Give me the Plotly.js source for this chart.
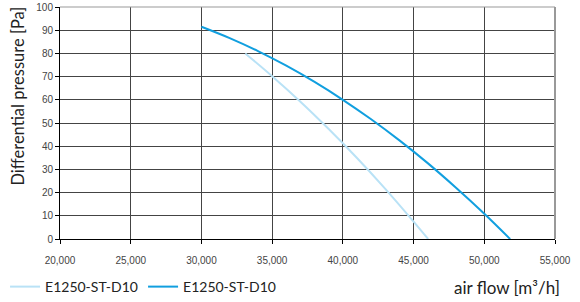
<!DOCTYPE html>
<html><head><meta charset="utf-8">
<script src="https://cdn.plot.ly/plotly-3.0.1.min.js"></script>
<style>html,body{margin:0;padding:0;background:#fff}#chart{width:580px;height:302px}</style>
</head><body><div id="chart"></div>
<script>
const seriesNames = ["E1250-ST-D10", "E1250-ST-D10"];
const lightFlow = [33100, 35000, 37000, 39000, 41000, 43000, 45000, 46030];
const lightPressure = [80, 70.2, 59.2, 47.4, 34.9, 21.6, 7.5, 0];
const darkFlow = [30000, 32000, 34000, 36000, 38000, 40000, 42000, 44000, 46000, 48000, 50000, 51830];
const darkPressure = [91.5, 86.6, 81.0, 74.7, 67.7, 60, 51.6, 42.5, 32.7, 22.1, 10.9, 0];
const xTicks = [20000, 25000, 30000, 35000, 40000, 45000, 50000, 55000];
const xTickLabels = ["20,000","25,000","30,000","35,000","40,000","45,000","50,000","55,000"];
const yTicks = [0,10,20,30,40,50,60,70,80,90,100];

const titleFont = "Lato, 'Open Sans', sans-serif";
const data = [
  {x: lightFlow, y: lightPressure, type: "scatter", mode: "lines", name: seriesNames[0],
   line: {color: "#b9e2f6", width: 2, shape: "spline", smoothing: 1}},
  {x: darkFlow, y: darkPressure, type: "scatter", mode: "lines", name: seriesNames[1],
   line: {color: "#119fdf", width: 2, shape: "spline", smoothing: 1}}
];
const layout = {
  width: 580, height: 302,
  margin: {l: 60, r: 25, t: 7, b: 63, autoexpand: false},
  paper_bgcolor: "#fff", plot_bgcolor: "#fff",
  showlegend: true,
  legend: {orientation: "h", x: -0.111, y: -0.138, xanchor: "left", yanchor: "top",
    font: {family: titleFont, size: 14, color: "#222"}, itemwidth: 30, tracegroupgap: 0,
    entrywidth: 93},
  xaxis: {range: [20000, 55000], tickvals: xTicks, ticktext: xTickLabels,
    showgrid: true, gridcolor: "#444", gridwidth: 1,
    showline: true, linecolor: "#000", linewidth: 1, mirror: false,
    ticks: "outside", ticklen: 4, tickcolor: "#000", ticklabelstandoff: 8,
    tickfont: {family: "Liberation Sans, Arial, sans-serif", size: 10, color: "#444"}, zeroline: false},
  yaxis: {range: [0, 100], tickvals: yTicks,
    showgrid: true, gridcolor: "#444", gridwidth: 1,
    showline: true, linecolor: "#000", linewidth: 1,
    ticks: "outside", ticklen: 4, tickcolor: "#000",
    tickfont: {family: "Liberation Sans, Arial, sans-serif", size: 10, color: "#444"}, zeroline: false},
  shapes: [
    {type: "line", xref: "paper", yref: "paper", x0: 1, x1: 1, y0: 0, y1: 1, line: {color: "#999", width: 2}},
    {type: "line", xref: "paper", yref: "paper", x0: 0, x1: 1, y0: 1, y1: 1, line: {color: "#999", width: 1}}
  ],
  annotations: [
    {text: "Differential pressure [Pa]", xref: "paper", yref: "paper", x: -0.085, y: 0.618,
     xanchor: "center", yanchor: "middle", textangle: -90, showarrow: false,
     font: {family: titleFont, size: 16.5, color: "#222"}},
    {text: "air flow [m³/h]", xref: "paper", yref: "paper", x: 1.014, y: -0.155,
     xanchor: "right", yanchor: "top", showarrow: false,
     font: {family: titleFont, size: 17, color: "#222"}}
  ]
};
Plotly.newPlot("chart", data, layout, {displayModeBar: false, staticPlot: true});
</script></body></html>
